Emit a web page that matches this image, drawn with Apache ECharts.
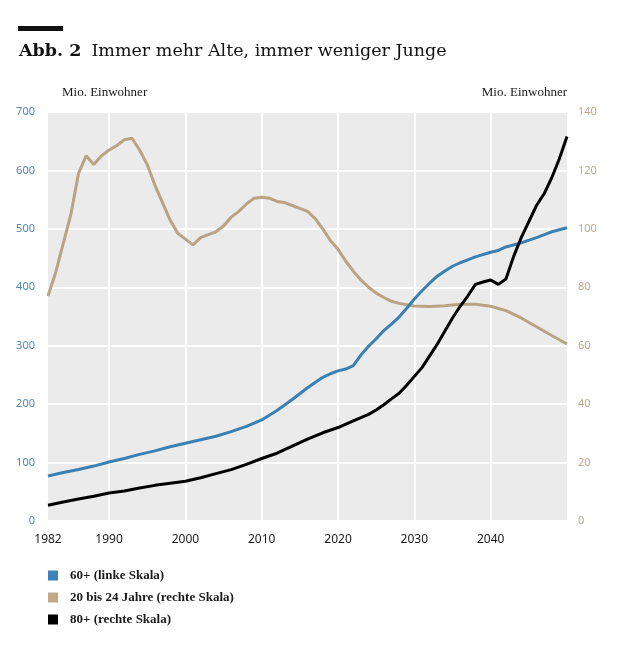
<!doctype html>
<html lang="de">
<head>
<meta charset="UTF-8">
<title>Abb. 2 Immer mehr Alte, immer weniger Junge</title>
<script src="https://cdn.jsdelivr.net/npm/echarts@6.0.0/dist/echarts.min.js"></script>
<style>
  html, body { margin: 0; padding: 0; background: #fff; }
  #main { width: 620px; height: 650px; }
</style>
</head>
<body>
<div id="main"></div>
<script type="text/javascript">

// x axis: 1982 .. 2050, labels only at these years
var firstYear = 1982;
var lastYear = 2050;
var xTickLabels = [1982, 1990, 2000, 2010, 2020, 2030, 2040];

// 60+ (linke Skala), Mio.
var oldYears = [1982, 1984, 1986, 1988, 1990, 1992, 1994, 1996, 1998, 2000, 2002, 2004, 2006, 2008, 2010,
    2012, 2014, 2016, 2018, 2019, 2020, 2021, 2022, 2023, 2024, 2025, 2026, 2027, 2028, 2029, 2030,
    2031, 2032, 2033, 2034, 2035, 2036, 2037, 2038, 2040, 2041, 2042, 2044, 2046, 2048, 2050];
var oldValues = [77, 83, 88, 94, 101, 107, 114, 120, 127, 133, 139, 145, 153, 162, 173,
    189, 208, 228, 246, 252, 257, 260, 266, 284, 299, 312, 326, 337, 349, 364, 380,
    394, 407, 419, 428, 436, 442, 447, 452, 460, 463, 469, 476, 485, 495, 502];

// 20 bis 24 Jahre (rechte Skala), Mio.
var youngYears = [1982, 1983, 1984, 1985, 1986, 1987, 1988, 1989, 1990, 1991, 1992, 1993, 1994, 1995,
    1996, 1997, 1998, 1999, 2000, 2001, 2002, 2003, 2004, 2005, 2006, 2007, 2008, 2009, 2010, 2011,
    2012, 2013, 2014, 2015, 2016, 2017, 2018, 2019, 2020, 2021, 2022, 2023, 2024, 2025, 2026, 2027,
    2028, 2030, 2032, 2034, 2036, 2038, 2040, 2042, 2044, 2046, 2048, 2050];
var youngValues = [77, 85, 95, 105, 119, 125, 122, 125, 127, 128.5, 130.5, 131, 127, 122,
    115, 109, 103, 98.5, 96.5, 94.5, 97, 98, 99, 101, 104, 106, 108.5, 110.5, 110.8, 110.5,
    109.4, 109, 108, 107, 106, 103.5, 100, 96, 93, 89, 85.5, 82.5, 80, 78, 76.5, 75.2,
    74.5, 73.6, 73.4, 73.7, 74.2, 74.2, 73.5, 72, 69.5, 66.5, 63.5, 60.6];

// 80+ (rechte Skala), Mio.
var veryOldYears = [1982, 1984, 1986, 1988, 1990, 1992, 1994, 1996, 1998, 2000, 2002, 2004, 2006, 2008,
    2010, 2012, 2014, 2016, 2018, 2020, 2022, 2024, 2025, 2026, 2027, 2028, 2029, 2030, 2031, 2032,
    2033, 2034, 2035, 2036, 2037, 2038, 2039, 2040, 2041, 2042, 2043, 2044, 2045, 2046, 2047, 2048,
    2049, 2050];
var veryOldValues = [5.4, 6.5, 7.5, 8.5, 9.6, 10.3, 11.3, 12.2, 12.9, 13.6, 14.8, 16.2, 17.6, 19.4,
    21.4, 23.2, 25.6, 28, 30.2, 32, 34.3, 36.5, 38, 39.8, 41.8, 43.7, 46.5, 49.5, 52.5, 56.5,
    60.5, 65, 69.5, 73.5, 77, 81, 81.8, 82.5, 81, 82.8, 90.5, 97, 102.5, 108, 112, 117.5,
    124, 131.6];

var seriesNames = ['60+ (linke Skala)', '20 bis 24 Jahre (rechte Skala)', '80+ (rechte Skala)'];

var axisYears = [];
for (var y = firstYear; y <= lastYear; y++) {
    axisYears.push(String(y));
}

function pairs(years, values) {
    return years.map(function (yr, i) {
        return [String(yr), values[i]];
    });
}

var chart = echarts.init(document.getElementById('main'), null, { renderer: 'canvas' });

var serif = 'DejaVu Serif';
var textSerif = 'Liberation Serif';
var sans = 'Noto Sans';

var option = {
    animation: false,
    backgroundColor: '#fff',
    title: {
        left: 14,
        top: 37,
        text: '{a|Abb. 2}  {b|Immer mehr Alte, immer weniger Junge}',
        textStyle: {
            fontWeight: 'normal',
            rich: {
                a: { fontFamily: serif, fontWeight: 'bold', fontSize: 17.5, color: '#111' },
                b: { fontFamily: serif, fontWeight: 'normal', fontSize: 17.5, color: '#111' }
            }
        }
    },
    graphic: [{
        type: 'rect',
        shape: { x: 18, y: 26, width: 45, height: 5 },
        style: { fill: '#111' }
    }],
    legend: {
        orient: 'vertical',
        left: 48,
        top: 569,
        padding: 0,
        itemWidth: 10,
        itemHeight: 10,
        itemGap: 9,
        icon: 'rect',
        data: seriesNames,
        textStyle: {
            fontFamily: textSerif,
            fontWeight: 'bold',
            fontSize: 13,
            color: '#1a1a1a',
            padding: [0, 0, 0, 7]
        }
    },
    grid: {
        left: 48,
        right: 53,
        top: 112,
        bottom: 129,
        show: true,
        backgroundColor: '#ebebeb',
        borderWidth: 0,
        outerBoundsMode: 'none'
    },
    xAxis: {
        type: 'category',
        data: axisYears,
        boundaryGap: false,
        axisLine: { show: false },
        axisTick: { show: false },
        axisLabel: {
            interval: function (index, value) {
                return xTickLabels.indexOf(+value) >= 0;
            },
            color: '#1a1a1a',
            fontFamily: sans,
            fontSize: 12,
            margin: 13
        },
        splitLine: {
            show: true,
            interval: function (index, value) {
                return +value % 10 === 0 && +value < lastYear;
            },
            lineStyle: { color: '#fff', width: 2 }
        }
    },
    yAxis: [{
        type: 'value',
        min: 0,
        max: 700,
        interval: 100,
        name: 'Mio. Einwohner',
        nameLocation: 'end',
        nameGap: 13,
        nameTextStyle: {
            fontFamily: textSerif,
            fontSize: 13,
            color: '#1a1a1a',
            align: 'left',
            padding: [0, 0, 0, 14]
        },
        axisLine: { show: false },
        axisTick: { show: false },
        axisLabel: { color: '#5387b5', fontFamily: sans, fontSize: 11, margin: 13 },
        splitLine: { show: true, lineStyle: { color: '#fff', width: 2 } }
    }, {
        type: 'value',
        min: 0,
        max: 140,
        interval: 20,
        name: 'Mio. Einwohner',
        nameLocation: 'end',
        nameGap: 13,
        nameTextStyle: {
            fontFamily: textSerif,
            fontSize: 13,
            color: '#1a1a1a',
            align: 'right'
        },
        axisLine: { show: false },
        axisTick: { show: false },
        axisLabel: { color: '#bba98f', fontFamily: sans, fontSize: 11, margin: 11 },
        splitLine: { show: false }
    }],
    series: [{
        name: seriesNames[1],
        type: 'line',
        yAxisIndex: 1,
        showSymbol: false,
        data: pairs(youngYears, youngValues),
        itemStyle: { color: '#c2a887' },
        lineStyle: { color: '#b9a383', width: 3 }
    }, {
        name: seriesNames[0],
        type: 'line',
        yAxisIndex: 0,
        showSymbol: false,
        data: pairs(oldYears, oldValues),
        itemStyle: { color: '#3d82b7' },
        lineStyle: { color: '#3a80b2', width: 3 }
    }, {
        name: seriesNames[2],
        type: 'line',
        yAxisIndex: 1,
        showSymbol: false,
        data: pairs(veryOldYears, veryOldValues),
        itemStyle: { color: '#000' },
        lineStyle: { color: '#000', width: 3 }
    }]
};

chart.setOption(option);

</script>
</body>
</html>
